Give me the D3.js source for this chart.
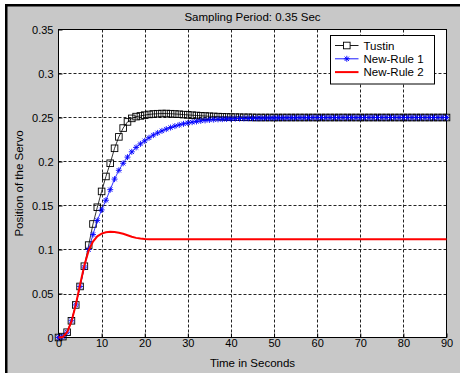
<!doctype html>
<html>
<head>
    <script src="https://d3js.org/d3.v7.min.js"></script>
    <style>
        body { margin: 0; background: white; }
        text { font-family: "Liberation Sans", Arial, sans-serif; }
    </style>
</head>
<body>
    <script>
        var width = 460;
        var height = 373;

        // time in seconds (one sample per second)
        var time = d3.range(0, 91, 1);

        var tustin = [0, 0.001, 0.006, 0.019, 0.037, 0.058, 0.081, 0.105, 0.129, 0.148,
                      0.166, 0.183, 0.198, 0.215, 0.228, 0.238, 0.245, 0.249, 0.251, 0.2518,
                      0.2527, 0.2535, 0.254, 0.2543, 0.2545, 0.2545, 0.2543, 0.254, 0.2537, 0.2533,
                      0.253, 0.2526, 0.2523, 0.252, 0.2517, 0.2514, 0.2512, 0.251, 0.2508, 0.2506,
                      0.2505, 0.2504, 0.2503, 0.2502, 0.2502, 0.2501, 0.25, 0.25, 0.25, 0.25,
                      0.25, 0.25, 0.25, 0.25, 0.25, 0.25, 0.25, 0.25, 0.25, 0.25,
                      0.25, 0.25, 0.25, 0.25, 0.25, 0.25, 0.25, 0.25, 0.25, 0.25,
                      0.25, 0.25, 0.25, 0.25, 0.25, 0.25, 0.25, 0.25, 0.25, 0.25,
                      0.25, 0.25, 0.25, 0.25, 0.25, 0.25, 0.25, 0.25, 0.25, 0.25,
                      0.25];

        var newRule1 = [0, 0.001, 0.006, 0.019, 0.037, 0.058, 0.080, 0.100, 0.117, 0.133,
                        0.145, 0.156, 0.168, 0.180, 0.190, 0.198, 0.205, 0.211, 0.216, 0.220,
                        0.2235, 0.227, 0.230, 0.2325, 0.2348, 0.2368, 0.2386, 0.2402, 0.2416, 0.2428,
                        0.2438, 0.2447, 0.2455, 0.2462, 0.2467, 0.2472, 0.2476, 0.2479, 0.2481, 0.2483,
                        0.2485, 0.2487, 0.2488, 0.2489, 0.249, 0.2491, 0.2492, 0.2493, 0.2494, 0.2494,
                        0.2495, 0.2496, 0.2496, 0.2497, 0.2497, 0.2497, 0.2498, 0.2498, 0.2498, 0.2499,
                        0.2499, 0.2499, 0.2499, 0.2499, 0.2499, 0.2499, 0.2499, 0.2499, 0.2499, 0.2499,
                        0.2499, 0.25, 0.25, 0.25, 0.25, 0.25, 0.25, 0.25, 0.25, 0.25,
                        0.25, 0.25, 0.25, 0.25, 0.25, 0.25, 0.25, 0.25, 0.25, 0.25,
                        0.25];

        var newRule2 = [0, 0.0005, 0.006, 0.018, 0.037, 0.060, 0.082, 0.099, 0.109, 0.115,
                        0.118, 0.1195, 0.1202, 0.1198, 0.119, 0.1178, 0.1162, 0.1145, 0.1132, 0.1124,
                        0.1119, 0.1117, 0.1117, 0.1117, 0.1117, 0.1117, 0.1117, 0.1117, 0.1117, 0.1117,
                        0.1117, 0.1117, 0.1117, 0.1117, 0.1117, 0.1117, 0.1117, 0.1117, 0.1117, 0.1117,
                        0.1117, 0.1117, 0.1117, 0.1117, 0.1117, 0.1117, 0.1117, 0.1117, 0.1117, 0.1117,
                        0.1117, 0.1117, 0.1117, 0.1117, 0.1117, 0.1117, 0.1117, 0.1117, 0.1117, 0.1117,
                        0.1117, 0.1117, 0.1117, 0.1117, 0.1117, 0.1117, 0.1117, 0.1117, 0.1117, 0.1117,
                        0.1117, 0.1117, 0.1117, 0.1117, 0.1117, 0.1117, 0.1117, 0.1117, 0.1117, 0.1117,
                        0.1117, 0.1117, 0.1117, 0.1117, 0.1117, 0.1117, 0.1117, 0.1117, 0.1117, 0.1117,
                        0.1117];

        var xTicks = [0, 10, 20, 30, 40, 50, 60, 70, 80, 90];
        var yTicks = [0, 0.05, 0.1, 0.15, 0.2, 0.25, 0.3, 0.35];
        var seriesNames = ["Tustin", "New-Rule 1", "New-Rule 2"];

        var plotLeft = 58.5, plotRight = 446.5, plotTop = 29.5, plotBottom = 337.5;

        var xScale = d3.scaleLinear().domain([0, 90]).range([plotLeft, plotRight]);
        var yScale = d3.scaleLinear().domain([0, 0.35]).range([plotBottom, plotTop]);

        var svg = d3.select("body")
                    .append("svg")
                    .attr("width", width)
                    .attr("height", height);

        // figure background with the dark frame on top and left
        svg.append("rect").attr("x", 5).attr("y", 4).attr("width", width - 5).attr("height", height - 4)
           .style("fill", "#c8c8c8");
        svg.append("rect").attr("x", 5).attr("y", 4).attr("width", width - 5).attr("height", 2.5)
           .style("fill", "#000");
        svg.append("rect").attr("x", 5).attr("y", 4).attr("width", 2.5).attr("height", height - 4)
           .style("fill", "#000");

        // plot area
        svg.append("rect")
           .attr("x", plotLeft).attr("y", plotTop)
           .attr("width", plotRight - plotLeft).attr("height", plotBottom - plotTop)
           .style("fill", "white");

        // dashed grid
        svg.selectAll(".vgrid")
           .data(xTicks.slice(1, -1))
           .enter()
           .append("line")
           .attr("x1", function(d){ return Math.round(xScale(d)) + 0.5; })
           .attr("x2", function(d){ return Math.round(xScale(d)) + 0.5; })
           .attr("y1", plotTop).attr("y2", plotBottom)
           .style("stroke", "#222")
           .style("stroke-dasharray", "3,2");

        svg.selectAll(".hgrid")
           .data(yTicks.slice(1, -1))
           .enter()
           .append("line")
           .attr("y1", function(d){ return Math.round(yScale(d)) + 0.5; })
           .attr("y2", function(d){ return Math.round(yScale(d)) + 0.5; })
           .attr("x1", plotLeft).attr("x2", plotRight)
           .style("stroke", "#222")
           .style("stroke-dasharray", "3,2");

        // axes
        var xAxis = d3.axisBottom(xScale).tickValues(xTicks).tickSizeInner(-4).tickSizeOuter(0).tickPadding(2);
        var yAxis = d3.axisLeft(yScale).tickValues(yTicks)
                      .tickFormat(function(d){ return d3.format("")(+d.toFixed(2)); })
                      .tickSizeInner(-4).tickSizeOuter(0).tickPadding(5);

        var gx = svg.append("g").attr("transform", "translate(0," + plotBottom + ")").call(xAxis);
        var gy = svg.append("g").attr("transform", "translate(" + plotLeft + ",0)").call(yAxis);
        [gx, gy].forEach(function(g){
            g.select(".domain").remove();
            g.selectAll("line").style("stroke", "#000");
            g.selectAll("text").style("font-size", "11px").style("fill", "#000")
             .style("font-family", "'Liberation Sans', Arial, sans-serif");
        });

        // box
        svg.append("rect")
           .attr("x", plotLeft).attr("y", plotTop)
           .attr("width", plotRight - plotLeft).attr("height", plotBottom - plotTop)
           .style("fill", "none")
           .style("stroke", "#000");

        var line = function(values){
            return d3.line()
                     .x(function(d, i){ return xScale(time[i]); })
                     .y(function(d){ return yScale(d); })(values);
        };

        var star = "M-3,0H3M0,-3V3M-2.2,-2.2L2.2,2.2M-2.2,2.2L2.2,-2.2";

        // Tustin
        svg.append("path").attr("d", line(tustin))
           .style("fill", "none").style("stroke", "#000").style("stroke-width", 0.8);
        svg.selectAll(".sq")
           .data(tustin)
           .enter()
           .append("rect")
           .attr("x", function(d, i){ return xScale(time[i]) - 3.3; })
           .attr("y", function(d){ return yScale(d) - 3.3; })
           .attr("width", 6.6).attr("height", 6.6)
           .style("fill", "none").style("stroke", "#000").style("stroke-width", 0.9);

        // New-Rule 1
        svg.append("path").attr("d", line(newRule1))
           .style("fill", "none").style("stroke", "#0000ff").style("stroke-width", 0.8);
        svg.selectAll(".st")
           .data(newRule1)
           .enter()
           .append("path")
           .attr("d", star)
           .attr("transform", function(d, i){ return "translate(" + xScale(time[i]) + "," + yScale(d) + ")"; })
           .style("fill", "none").style("stroke", "#0000ff").style("stroke-width", 0.9);

        // New-Rule 2
        svg.append("path").attr("d", line(newRule2))
           .style("fill", "none").style("stroke", "#ff0000").style("stroke-width", 2);

        // title and labels
        svg.append("text").attr("x", (plotLeft + plotRight) / 2).attr("y", 20.5)
           .attr("text-anchor", "middle").style("font-size", "11.5px")
           .text("Sampling Period: 0.35 Sec");
        svg.append("text").attr("x", (plotLeft + plotRight) / 2).attr("y", 367)
           .attr("text-anchor", "middle").style("font-size", "11.5px")
           .text("Time in Seconds");
        svg.append("text")
           .attr("transform", "translate(23.3," + (plotTop + plotBottom) / 2 + ") rotate(-90)")
           .attr("text-anchor", "middle").style("font-size", "11.5px")
           .text("Position of the Servo");

        // legend
        var legend = svg.append("g");
        legend.append("rect")
              .attr("x", 330.5).attr("y", 35.5).attr("width", 104).attr("height", 48.5)
              .style("fill", "white").style("stroke", "#000");
        var colors = ["#000", "#0000ff", "#ff0000"];
        var rows = legend.selectAll(".row")
                         .data(seriesNames)
                         .enter()
                         .append("g")
                         .attr("transform", function(d, i){ return "translate(0," + (45.5 + i * 13.3) + ")"; });
        rows.append("line")
            .attr("x1", 335).attr("x2", 358.5).attr("y1", 0).attr("y2", 0)
            .style("stroke", function(d, i){ return colors[i]; })
            .style("stroke-width", function(d, i){ return i == 2 ? 2 : 0.9; });
        rows.filter(function(d, i){ return i == 0; })
            .append("rect").attr("x", 343.5).attr("y", -3.3).attr("width", 6.6).attr("height", 6.6)
            .style("fill", "white").style("stroke", "#000").style("stroke-width", 0.9);
        rows.filter(function(d, i){ return i == 1; })
            .append("path").attr("d", star).attr("transform", "translate(346.8,0)")
            .style("fill", "none").style("stroke", "#0000ff").style("stroke-width", 0.9);
        rows.append("text")
            .attr("x", 363.5).attr("y", 4)
            .style("font-size", "11.5px")
            .text(function(d){ return d; });
    </script>
</body>
</html>
